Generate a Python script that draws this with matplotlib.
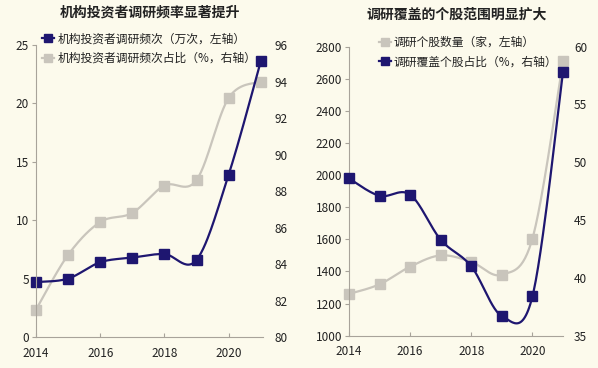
import numpy as np
import matplotlib
matplotlib.use("Agg")
import matplotlib.pyplot as plt
from matplotlib.lines import Line2D

plt.rcParams['font.family'] = ['Noto Sans CJK SC', 'DejaVu Sans']

years = [2014, 2015, 2016, 2017, 2018, 2019, 2020, 2021]
freq = [4.7, 5.0, 6.4, 6.8, 7.1, 6.6, 13.9, 23.6]
freq_share = [81.5, 84.5, 86.3, 86.8, 88.3, 88.6, 93.1, 94.0]
stocks = [1260, 1320, 1430, 1500, 1460, 1380, 1605, 2710]
coverage = [48.6, 47.1, 47.2, 43.3, 41.0, 36.7, 38.4, 57.8]

title_left = "机构投资者调研频率显著提升"
title_right = "调研覆盖的个股范围明显扩大"
lab_freq = "机构投资者调研频次（万次，左轴）"
lab_freq_share = "机构投资者调研频次占比（%，右轴）"
lab_stocks = "调研个股数量（家，左轴）"
lab_cov = "调研覆盖个股占比（%，右轴）"

BG = "#FCFAEC"
NAVY = "#1E1670"
GRAY = "#C9C5BC"
SPINE = "#A8A39A"
TXT = "#222222"


def smooth(x, y, n=30):
    x = np.asarray(x, float)
    y = np.asarray(y, float)
    px, py = [], []
    for i in range(len(x) - 1):
        x0, y0 = x[i], y[i]
        x3, y3 = x[i + 1], y[i + 1]
        xm, ym = (x[i - 1], y[i - 1]) if i > 0 else (x0, y0)
        xp, yp = (x[i + 2], y[i + 2]) if i + 2 < len(x) else (x3, y3)
        x1 = x0 + (x3 - xm) / 6
        y1 = y0 + (y3 - ym) / 6
        x2 = x3 - (xp - x0) / 6
        y2 = y3 - (yp - y0) / 6
        t = np.linspace(0, 1, n)
        b0 = (1 - t) ** 3
        b1 = 3 * (1 - t) ** 2 * t
        b2 = 3 * (1 - t) * t ** 2
        b3 = t ** 3
        px.extend(b0 * x0 + b1 * x1 + b2 * x2 + b3 * x3)
        py.extend(b0 * y0 + b1 * y1 + b2 * y2 + b3 * y3)
    return np.array(px), np.array(py)


def draw(ax, x, y, color):
    sx, sy = smooth(x, y)
    ax.plot(sx, sy, color=color, lw=1.6, clip_on=False, solid_capstyle='round')
    ax.plot(x, y, ls='none', marker='s', ms=7, color=color, clip_on=False)


def style_axes(ax, ax2):
    for a in (ax, ax2):
        a.patch.set_visible(False)
        for s in ('top', 'right'):
            a.spines[s].set_visible(False)
        a.tick_params(labelsize=8.5, colors=TXT)
    ax.spines['left'].set_color(SPINE)
    ax.spines['bottom'].set_color(SPINE)
    ax2.spines['left'].set_visible(False)
    ax2.spines['bottom'].set_visible(False)
    ax.tick_params(axis='y', direction='out', length=3, color=SPINE, pad=2)
    ax.tick_params(axis='x', direction='in', length=3, color=SPINE, pad=7)
    ax2.tick_params(axis='y', length=0, pad=8)
    ax.set_xticks([2014, 2016, 2018, 2020])


fig = plt.figure(figsize=(5.98, 3.68), dpi=100, facecolor=BG)

leg_kw = dict(loc='upper left', frameon=False, fontsize=8.5,
              handlelength=1.0, handletextpad=0.25, labelspacing=0.55,
              borderaxespad=0, borderpad=0, labelcolor=TXT)

# Left chart
axL = fig.add_axes([0.0602, 0.0842, 0.3796, 0.7935])
axL2 = axL.twinx()
draw(axL2, years, freq_share, GRAY)
draw(axL, years, freq, NAVY)
axL.set_zorder(axL2.get_zorder() + 1)
axL.set_xlim(2014, 2021.07)
axL.set_ylim(0, 25)
axL.set_yticks([0, 5, 10, 15, 20, 25])
axL2.set_ylim(80, 96)
axL2.set_yticks(range(80, 97, 2))
style_axes(axL, axL2)
h1 = Line2D([], [], color=NAVY, lw=1.6, marker='s', ms=6)
h2 = Line2D([], [], color=GRAY, lw=1.6, marker='s', ms=6)
fig.legend([h1, h2], [lab_freq, lab_freq_share],
           bbox_to_anchor=(0.071, 0.912), **leg_kw)
fig.text(150 / 598, 1 - 13 / 368, title_left, ha='center', va='center',
         fontsize=10, fontweight='bold', color=TXT)

# Right chart
axR = fig.add_axes([0.5836, 0.0878, 0.3579, 0.7853])
axR2 = axR.twinx()
draw(axR, years, stocks, GRAY)
draw(axR2, years, coverage, NAVY)
axR.set_xlim(2014, 2021)
axR.set_ylim(1000, 2800)
axR.set_yticks(range(1000, 2801, 200))
axR2.set_ylim(35, 60)
axR2.set_yticks([35, 40, 45, 50, 55, 60])
style_axes(axR, axR2)
h3 = Line2D([], [], color=GRAY, lw=1.6, marker='s', ms=6)
h4 = Line2D([], [], color=NAVY, lw=1.6, marker='s', ms=6)
fig.legend([h3, h4], [lab_stocks, lab_cov],
           bbox_to_anchor=(0.634, 0.902), **leg_kw)
fig.text(457 / 598, 1 - 15 / 368, title_right, ha='center', va='center',
         fontsize=10, fontweight='bold', color=TXT)

fig.savefig("out.png", dpi=100, facecolor=BG)
